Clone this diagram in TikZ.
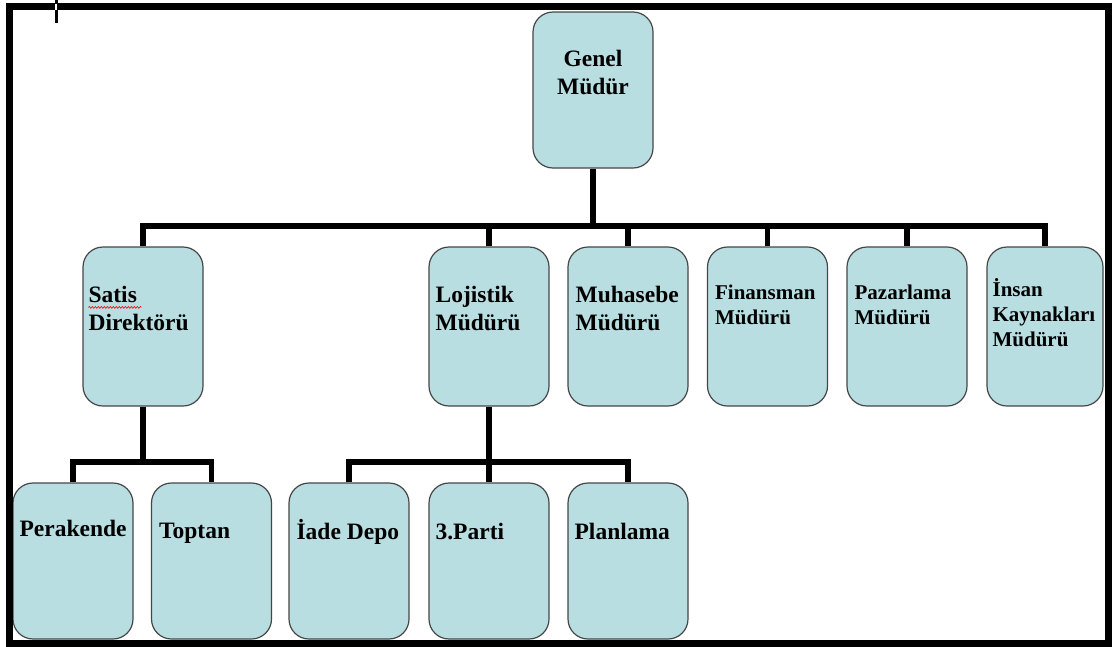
\documentclass[tikz,border=0pt]{standalone}
\usepackage{fontspec}
\setmainfont{Liberation Serif}
\usetikzlibrary{positioning,decorations.pathmorphing}
\definecolor{boxfill}{RGB}{184,222,226}
\definecolor{boxline}{RGB}{70,70,70}

\begin{document}
\begin{tikzpicture}[
    x=1pt, y=-1pt,
    unit/.style={
        draw=boxline,
        line width=1.2pt,
        rounded corners=20pt,
        fill=boxfill,
        minimum width=120pt,
        minimum height=159pt,
        inner sep=0pt
    },
    leaf/.style={
        unit,
        minimum height=156pt
    },
    lbl/.style={
        anchor=base west,
        align=left,
        inner sep=0pt,
        font=\fontsize{23.5}{28}\selectfont\bfseries
    },
    smalllbl/.style={
        lbl,
        font=\fontsize{21}{25}\selectfont\bfseries
    },
    link/.style={
        line width=5.5pt,
        black
    }
]
\useasboundingbox (0,0) rectangle (1115,646);

% ---------------- Top ----------------
\node[leaf] (genel) at (593,90) {};
\coordinate (bar) at (593,226);

% ---------------- Managers ----------------
\node[unit] (satis) at (143,326.5) {};
\node[unit] (lojistik) at (489,326.5) {};
\node[unit] (muhasebe) at (628,326.5) {};
\node[unit] (finansman) at (767.5,326.5) {};
\node[unit] (pazarlama) at (907,326.5) {};
\node[unit, minimum width=116pt] (insan) at (1045,326.5) {};

% ---------------- Departments ----------------
\node[leaf] (perakende) at (73,561) {};
\node[leaf] (toptan) at (211.5,561) {};
\node[leaf] (iade) at (349,561) {};
\node[leaf] (parti) at (489,561) {};
\node[leaf] (planlama) at (628,561) {};
\coordinate (satisbar) at (143,462);
\coordinate (lojbar) at (489,462);

% ---------------- Connectors ----------------
\draw[link] (genel.south) -- (bar);
\draw[link] (satis.north) |- (bar) -| (insan.north);
\foreach \n in {lojistik,muhasebe,finansman,pazarlama}
    \draw[link] (\n.north) -- (\n.north |- bar);
\draw[link] (satis.south) -- (satisbar);
\draw[link] (perakende.north) |- (satisbar) -| (toptan.north);
\draw[link] (lojistik.south) -- (parti.north);
\draw[link] (iade.north) |- (lojbar) -| (planlama.north);

% ---------------- Labels ----------------
% (base = last line)
\node[lbl, anchor=base, align=center] (genelT) at ([shift={(0,83)}]genel.north) {Genel\\Müdür};
\node[lbl] (satisT) at ([shift={(6,84)}]satis.north west) {Satis\\Direktörü};
\node[lbl] (lojistikT) at ([shift={(7,84)}]lojistik.north west) {Lojistik\\Müdürü};
\node[lbl] (muhasebeT) at ([shift={(8,84)}]muhasebe.north west) {Muhasebe\\Müdürü};
\node[smalllbl] (finansmanT) at ([shift={(8,78)}]finansman.north west) {Finansman\\Müdürü};
\node[smalllbl] (pazarlamaT) at ([shift={(8,78)}]pazarlama.north west) {Pazarlama\\Müdürü};
\node[smalllbl] (insanT) at ([shift={(6,100)}]insan.north west) {İnsan\\Kaynakları\\Müdürü};
\node[lbl] (perakendeT) at ([shift={(7,54)}]perakende.north west) {Perakende};
\node[lbl] (toptanT) at ([shift={(8,56)}]toptan.north west) {Toptan};
\node[lbl] (iadeT) at ([shift={(8,57)}]iade.north west) {İade Depo};
\node[lbl] (partiT) at ([shift={(7,57)}]parti.north west) {3.Parti};
\node[lbl] (planlamaT) at ([shift={(7,57)}]planlama.north west) {Planlama};

% spell-check underline
\draw[red, line width=0.6pt, decorate,
      decoration={snake, amplitude=0.9pt, segment length=3pt}]
    ([shift={(6,61)}]satis.north west) -- ++(53,0);

% ---------------- Frame ----------------
\draw[line width=7pt] (9.5,6.5) rectangle (1108.5,643.5);
\draw[line width=3pt] (56,0) -- (56,23);
\draw[white, line width=1.2pt] (56,3.5) -- (56,9.5);

\end{tikzpicture}
\end{document}
